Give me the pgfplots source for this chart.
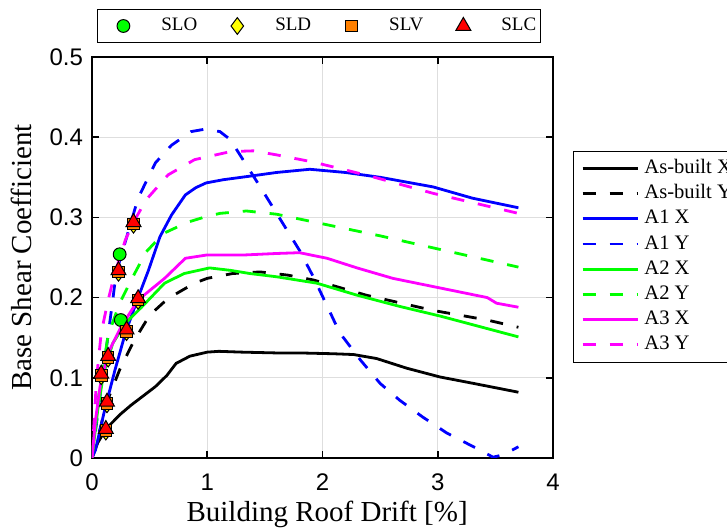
\documentclass[border=0pt]{standalone}
\usepackage{fontspec}
\setmainfont{Liberation Serif}
\newfontfamily\sansf{Liberation Sans}
\usepackage{pgfplots}
\pgfplotsset{compat=1.18}
\definecolor{mblue}{RGB}{0,0,255}
\definecolor{mgreen}{RGB}{0,255,0}
\definecolor{mmag}{RGB}{255,0,255}
\definecolor{mred}{RGB}{255,0,0}
\definecolor{myel}{RGB}{255,255,0}
\definecolor{morange}{RGB}{255,128,0}
\pgfplotsset{
  ln/.style={line width=1.4pt, solid},
  dsh/.style={line width=1.4pt, dash pattern=on 6.5pt off 7pt},
  mleg/.style={legend image code/.code={\path[draw=none] (0pt,0pt) -- (30pt,0pt); \draw[##1] plot coordinates {(11pt,0pt)};}},
  common/.style={scale only axis, width=230.5pt, height=200.5pt,
    xmin=0, xmax=4, ymin=0, ymax=0.5},
}
\begin{document}
\begin{tikzpicture}
\begin{axis}[common, name=main,
  xtick={0,1,2,3,4}, ytick={0,0.1,0.2,0.3,0.4,0.5},
  grid=major, major grid style={black!13, line width=0.5pt},
  axis line style={line width=0.8pt},
  tick style={black, line width=0.8pt}, major tick length=3.5pt, tick align=inside,
  /pgf/number format/assume math mode=true, /pgf/number format/fixed,
  ticklabel style={font=\sansf\fontsize{12}{14}\selectfont},
  xticklabel style={yshift=-4.5pt},
  yticklabel style={xshift=-1pt},
  xlabel={Building Roof Drift [\%]}, ylabel={Base Shear Coefficient},
  label style={font=\fontsize{14.5}{17}\selectfont},
  x label style={at={(axis description cs:0.51,-0.14)}, anchor=center},
  y label style={at={(axis description cs:-0.152,0.5)}, anchor=center},
  legend image code/.code={\draw[#1] (0pt,0pt) -- (27.7pt,0pt);},
  legend style={at={(rel axis cs:1,1)}, anchor=north west, xshift=9.85pt, yshift=-46.85pt,
    draw=black, line width=0.5pt, inner xsep=4pt, inner ysep=3.6pt, row sep=2.6pt,
    nodes={inner sep=0pt, text height=7.5pt, text depth=2.5pt},
    /tikz/every odd column/.style={column sep=2.5pt},
    font=\fontsize{10.3}{12}\selectfont, cells={anchor=west}},
]
\addplot[ln, black] coordinates {(0,0) (0.05,0.019) (0.12,0.036) (0.16,0.042) (0.25,0.055) (0.34,0.066) (0.45,0.078) (0.55,0.089) (0.65,0.103) (0.73,0.118) (0.85,0.127) (1.0,0.132) (1.1,0.133) (1.3,0.132) (1.6,0.131) (1.8,0.131) (2.09,0.130) (2.27,0.129) (2.47,0.124) (2.73,0.112) (3.02,0.101) (3.31,0.093) (3.70,0.082)};
\addlegendentry{As-built X}
\addplot[dsh, black] coordinates {(0,0) (0.05,0.025) (0.13,0.070) (0.24,0.110) (0.36,0.145) (0.50,0.178) (0.66,0.199) (0.89,0.218) (1.0,0.224) (1.22,0.230) (1.46,0.232) (1.70,0.228) (1.92,0.222) (2.38,0.203) (2.96,0.184) (3.43,0.172) (3.70,0.163)};
\addlegendentry{As-built Y}
\addplot[ln, mblue] coordinates {(0,0) (0.03,0.010) (0.11,0.060) (0.20,0.110) (0.29,0.156) (0.40,0.200) (0.49,0.234) (0.59,0.276) (0.69,0.303) (0.81,0.328) (0.9,0.337) (0.99,0.343) (1.14,0.347) (1.4,0.352) (1.6,0.356) (1.89,0.360) (2.2,0.356) (2.5,0.350) (2.96,0.338) (3.3,0.324) (3.70,0.312)};
\addlegendentry{A1 X}
\addplot[dsh, mblue] coordinates {(0,0) (0.1,0.11) (0.18,0.197) (0.21,0.231) (0.30,0.275) (0.40,0.324) (0.55,0.368) (0.69,0.390) (0.86,0.407) (0.98,0.410) (1.11,0.407) (1.2,0.397) (1.46,0.338) (1.80,0.259) (1.92,0.226) (2.15,0.156) (2.33,0.122) (2.50,0.093) (2.67,0.072) (2.87,0.051) (3.08,0.031) (3.31,0.014) (3.48,0.001) (3.57,0.004) (3.70,0.014)};
\addlegendentry{A1 Y}
\addplot[ln, mgreen] coordinates {(0,0) (0.05,0.06) (0.1,0.105) (0.18,0.143) (0.29,0.168) (0.43,0.188) (0.63,0.218) (0.8,0.230) (1.02,0.237) (1.2,0.234) (1.37,0.230) (1.6,0.226) (1.95,0.218) (2.3,0.203) (2.67,0.189) (3.02,0.177) (3.70,0.151)};
\addlegendentry{A2 X}
\addplot[dsh, mgreen] coordinates {(0,0) (0.05,0.07) (0.14,0.153) (0.24,0.193) (0.34,0.222) (0.47,0.257) (0.62,0.280) (0.83,0.294) (0.99,0.301) (1.11,0.305) (1.34,0.308) (1.6,0.304) (1.8,0.298) (2.0,0.292) (2.5,0.277) (2.96,0.262) (3.70,0.238)};
\addlegendentry{A2 Y}
\addplot[ln, mmag] coordinates {(0,0) (0.03,0.047) (0.07,0.089) (0.14,0.131) (0.25,0.163) (0.40,0.197) (0.63,0.224) (0.81,0.249) (0.99,0.253) (1.3,0.253) (1.6,0.255) (1.80,0.256) (2.04,0.249) (2.3,0.237) (2.61,0.224) (3.02,0.212) (3.43,0.200) (3.51,0.193) (3.70,0.188)};
\addlegendentry{A3 X}
\addplot[dsh, mmag] coordinates {(0,0) (0.04,0.1) (0.08,0.156) (0.14,0.197) (0.20,0.231) (0.29,0.272) (0.36,0.294) (0.47,0.322) (0.66,0.353) (0.89,0.372) (1.2,0.382) (1.4,0.383) (1.6,0.378) (1.92,0.369) (2.4,0.352) (2.96,0.330) (3.70,0.305)};
\addlegendentry{A3 Y}
\end{axis}
\begin{axis}[common, hide axis,
  legend columns=4,
  legend style={at={(rel axis cs:0.492,1)}, anchor=south, yshift=7pt,
    draw=black, line width=0.5pt, inner xsep=2pt, inner ysep=3.6pt,
    nodes={inner sep=0pt, text height=7pt, text depth=2.3pt},
    /tikz/every even column/.style={column sep=9pt},
    font=\fontsize{9.5}{11}\selectfont},
]
\addplot[only marks, mark=*, mark size=3.2pt, mark options={fill=mgreen, draw=black, line width=0.5pt}, mleg] coordinates {(0.24,0.254) (0.25,0.172)};
\addlegendentry{SLO}
\addplot[only marks, mark=diamond*, mark size=4.2pt, mark options={fill=myel, draw=black, line width=0.5pt}, mleg] coordinates {(0.36,0.291) (0.23,0.231) (0.40,0.196) (0.30,0.157) (0.14,0.124) (0.08,0.102) (0.13,0.067) (0.12,0.033)};
\addlegendentry{SLD}
\addplot[only marks, mark=square*, mark size=2.9pt, mark options={fill=morange, draw=black, line width=0.5pt}, mleg] coordinates {(0.36,0.292) (0.23,0.232) (0.40,0.197) (0.30,0.158) (0.14,0.125) (0.08,0.103) (0.13,0.068) (0.12,0.034)};
\addlegendentry{SLV}
\addplot[only marks, mark=triangle*, mark size=4.3pt, mark options={fill=mred, draw=black, line width=0.5pt}, mleg] coordinates {(0.36,0.294) (0.23,0.234) (0.40,0.199) (0.30,0.160) (0.14,0.127) (0.08,0.105) (0.13,0.070) (0.12,0.036)};
\addlegendentry{SLC}
\end{axis}
\pgfresetboundingbox
\useasboundingbox ([shift={(-46pt,-35pt)}]main.south west) rectangle ++(363.5pt,264pt);
\end{tikzpicture}
\end{document}
